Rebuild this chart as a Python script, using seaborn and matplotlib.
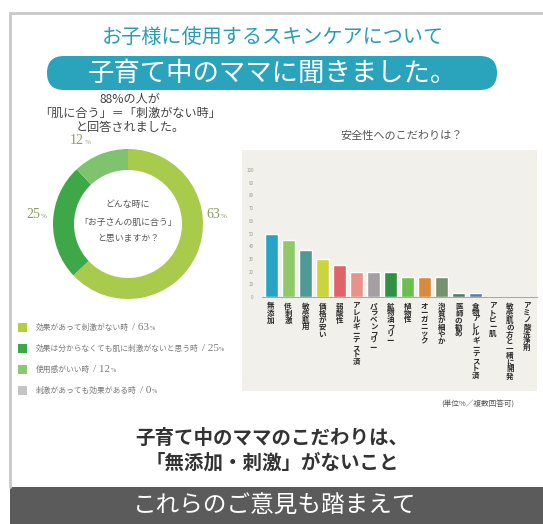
import numpy as np
import pandas as pd
import matplotlib
matplotlib.use("Agg")
import matplotlib.pyplot as plt
import seaborn as sns
from matplotlib.patches import FancyBboxPatch, Rectangle
from matplotlib.lines import Line2D

# ---------------- data ----------------
categories = ["無添加", "低刺激", "敏感肌用", "価格が安い", "弱酸性", "アレルギーテスト済",
              "パラベンフリー", "鉱物油フリー", "植物性", "オーガニック", "泡質が細やか",
              "医師の勧め", "食物アレルギーテスト済", "アトピー肌", "敏感肌の方と一緒に開発",
              "アミノ酸洗浄剤"]
values = [50, 45, 37, 30, 25, 20, 20, 20, 16, 16, 16, 3, 3, 0, 0, 0]
bar_colors = ["#27a3c6", "#8fc96a", "#4f9994", "#c9d43f", "#e0636b", "#e9928a",
              "#a59ea3", "#2f9143", "#6cbf4c", "#d88b3e", "#77906f", "#4b7c6a",
              "#5b7ea6", "#9a9a9a", "#9a9a9a", "#9a9a9a"]
yticks = [0, 10, 20, 30, 40, 50, 60, 70, 80, 90, 100]

donut_labels = ["効果があって刺激がない時", "効果は分からなくても肌に刺激がないと思う時",
                "使用感がいい時", "刺激があっても効果がある時"]
donut_values = [63, 25, 12, 0]
donut_colors = ["#a9cb4c", "#3ea849", "#80c36e", "#c4c4c4"]
legend_colors = ["#b6ce3e", "#3aa845", "#8cc870", "#c4c4c4"]

title_top = "お子様に使用するスキンケアについて"
banner_text = "子育て中のママに聞きました。"
donut_head = ["88%の人が", "「肌に合う」＝「刺激がない時」", "と回答されました。"]
donut_center = ["どんな時に", "「お子さんの肌に合う」", "と思いますか？"]
bar_title = "安全性へのこだわりは？"
unit_note = "(単位%／複数回答可)"
summary = ["子育て中のママのこだわりは、", "「無添加・刺激」がないこと"]
band_text = "これらのご意見も踏まえて"

# ---------------- style ----------------
sns.set_theme(style="white")
CJK = ["Noto Sans CJK JP", "DejaVu Sans"]
SERIF = ["Liberation Serif", "DejaVu Serif"]
plt.rcParams["font.family"] = CJK

W, H = 543, 524
fig = plt.figure(figsize=(W / 100, H / 100), dpi=100)
fig.patch.set_facecolor("white")

bg = fig.add_axes([0, 0, 1, 1])
bg.set_xlim(0, W)
bg.set_ylim(H, 0)
bg.axis("off")
bg.set_zorder(0)

# frame
bg.add_line(Line2D([10, 10], [13, 487], color="#c9c9c9", lw=2))
bg.add_line(Line2D([10, W], [13, 13], color="#c9c9c9", lw=2))

# top title
bg.text(273, 37, title_top, ha="center", va="center", fontsize=14.5, color="#2a9db5")

# banner
bg.add_patch(FancyBboxPatch((47, 56), 450, 34, boxstyle="round,pad=0,rounding_size=17",
                            facecolor="#2aa3bd", edgecolor="none"))
bg.text(272, 73, banner_text, ha="center", va="center", fontsize=19, color="white")

# donut heading
for i, s in enumerate(donut_head):
    bg.text(130, 99 + i * 14.5, s, ha="center", va="center", fontsize=8.7, color="#444")

# bar panel background
bg.add_patch(Rectangle((242, 150), 295, 241, facecolor="#f1f0eb", edgecolor="none"))
bg.text(402, 136, bar_title, ha="center", va="center", fontsize=8, color="#555")
bg.text(478, 405, unit_note, ha="center", va="center", fontsize=5.5, color="#555")

# summary
for i, s in enumerate(summary):
    bg.text(272, 438 + i * 25, s, ha="center", va="center", fontsize=14, color="#333",
            fontweight="bold")

# bottom band
bg.add_patch(Rectangle((10, 487), W - 10, H - 487, facecolor="#5b5b5b", edgecolor="none"))
bg.text(275, 506, band_text, ha="center", va="center", fontsize=17, color="white")

# ---------------- bar chart ----------------
axb = fig.add_axes([262 / W, 1 - 297 / H, 275 / W, 127 / H])
axb.set_zorder(2)
axb.patch.set_alpha(0)
df = pd.DataFrame({"cat": categories, "val": values})
sns.barplot(data=df, x="cat", y="val", hue="cat", palette=bar_colors, legend=False,
            width=0.76, saturation=1, ax=axb)
axb.set_xlim(-0.53, 15.59)
axb.set_ylim(0, 100)
axb.set_yticks(yticks)
axb.set_yticklabels([str(t) for t in yticks], fontsize=3.2, color="#999")
axb.set_xticks(range(len(categories)))
axb.set_xticklabels(["\n".join(c) for c in categories], fontsize=5.4, color="#2a2a2a",
                    linespacing=0.98, va="top", fontweight="bold")
axb.tick_params(axis="x", length=0, pad=4)
axb.tick_params(axis="y", length=0, pad=6)
for s in ["top", "right", "left"]:
    axb.spines[s].set_visible(False)
axb.spines["bottom"].set_color("#aaa")
axb.spines["bottom"].set_linewidth(0.8)
axb.set_xlabel("")
axb.set_ylabel("")

# ---------------- donut ----------------
cx, cy, r = 128, 224, 75
axd = fig.add_axes([(cx - r) / W, 1 - (cy + r) / H, 2 * r / W, 2 * r / H])
axd.set_zorder(2)
axd.pie(donut_values, colors=donut_colors, startangle=90, counterclock=False, radius=1,
        wedgeprops=dict(width=0.28, linewidth=0))
axd.set_xlim(-1, 1)
axd.set_ylim(-1, 1)
axd.set_aspect("equal")
axd.axis("off")

for i, s in enumerate(donut_center):
    bg.text(cx, cy - 19 + i * 17, s, ha="center", va="center", fontsize=6.4, color="#555")

renderer = fig.canvas.get_renderer()


def pair(x, y, a, b, sa, sb, color, fa, fb, ha="left"):
    ta = bg.text(x, y, a, ha="left", va="baseline", fontsize=sa, color=color, family=fa)
    tb = bg.text(x, y, b, ha="left", va="baseline", fontsize=sb, color=color, family=fb)
    wa = ta.get_window_extent(renderer).width
    wb = tb.get_window_extent(renderer).width
    start = x - (wa + wb) / 2 if ha == "center" else x
    ta.set_x(start)
    tb.set_x(start + wa + 0.5)
    return start + wa + wb


lab_col = "#8c9a62"
pair(216, cy - 6, str(donut_values[0]), "%", 10, 5, lab_col, SERIF, SERIF, ha="center")
pair(36, cy - 6, str(donut_values[1]), "%", 10, 5, lab_col, SERIF, SERIF, ha="center")
pair(80, 144, str(donut_values[2]), "%", 10, 5, lab_col, SERIF, SERIF, ha="center")

# legend
leg_y = [327, 348, 369, 390]
for lab, val, col, y in zip(donut_labels, donut_values, legend_colors, leg_y):
    bg.add_patch(Rectangle((18, y - 4.5), 9, 9, facecolor=col, edgecolor="none"))
    t = bg.text(36, y + 2.5, lab, ha="left", va="baseline", fontsize=5.6, color="#7a7a7a")
    w = t.get_window_extent(renderer).width
    pair(36 + w + 3, y + 3, f"/ {val}", "%", 8, 4.5, "#7a7a7a", SERIF, SERIF)

fig.savefig("out.png", dpi=100, facecolor="white")
